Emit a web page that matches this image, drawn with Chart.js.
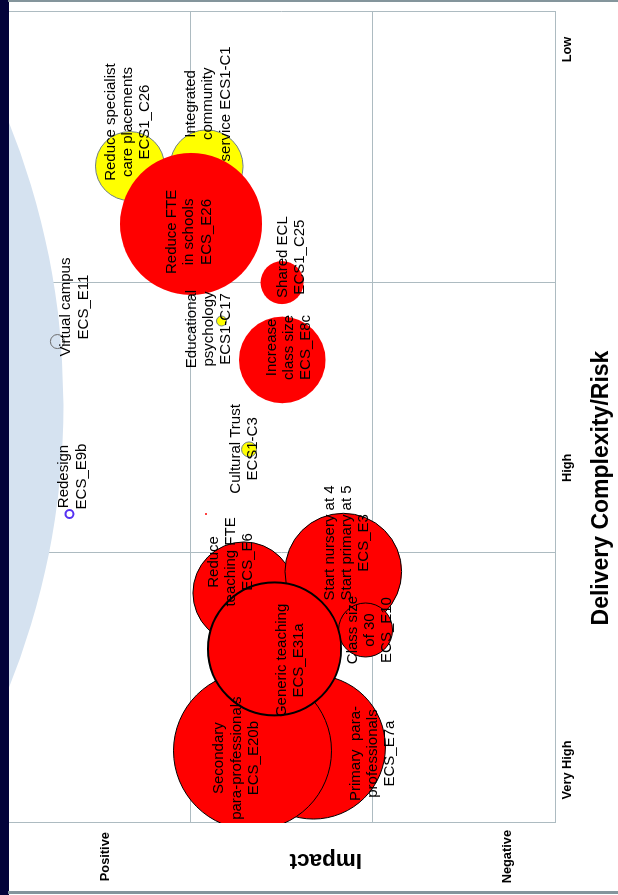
<!DOCTYPE html>
<html>
<head>
<meta charset="utf-8">
<title>Savings initiatives – impact vs delivery complexity</title>
<script src="https://cdn.jsdelivr.net/npm/chart.js@4/dist/chart.umd.min.js"></script>
<style>
  html, body { margin: 0; padding: 0; background: #ffffff; }
  body { position: relative; width: 618px; height: 895px; overflow: hidden; }
  /* the chart is laid out landscape and turned a quarter turn to stand upright */
  #turn {
    position: absolute; left: 0; top: 0; width: 895px; height: 618px;
    transform-origin: 0 0; transform: translate(0, 895px) rotate(-90deg);
  }
  #edge { position: absolute; left: 0; top: 0; width: 8.5px; height: 895px; background: #03033a; }
  #ruleTop { position: absolute; left: 8px; top: 0; width: 610px; height: 2px; background: #84959c; }
  #ruleBottom { position: absolute; left: 8px; top: 891px; width: 610px; height: 3px; background: #84959c; }
</style>
</head>
<body>
<div id="turn"><canvas id="chart" width="895" height="618"></canvas></div>
<div id="edge"></div>
<div id="ruleTop"></div>
<div id="ruleBottom"></div>
<script>
// ---- data -------------------------------------------------------------
// initiative reference codes
const codes = ['ECS1_C26', 'ECS1-C1', 'ECS_E26', 'ECS1_C25', 'ECS1-C17', 'ECS_E8c', 'ECS1-C3',
               'ECS_E11', 'ECS_E9b', '', 'ECS_E6', 'ECS_E3', 'ECS_E10', 'ECS_E7a', 'ECS_E20b', 'ECS_E31a'];

// label text shown on each bubble
const labels = [
  ['Reduce specialist', 'care placements', 'ECS1_C26'],
  ['Integrated', 'community', 'service ECS1-C1'],
  ['Reduce FTE', 'in schools', 'ECS_E26'],
  ['Shared ECL', 'ECS1_C25'],
  ['Educational', 'psychology', 'ECS1-C17'],
  ['Increase', 'class size', 'ECS_E8c'],
  ['Cultural Trust', 'ECS1-C3'],
  ['Virtual campus', 'ECS_E11'],
  ['Redesign', 'ECS_E9b'],
  [],
  ['Reduce', 'teaching FTE', 'ECS_E6'],
  ['Start nursery at 4', 'Start primary at 5', 'ECS_E3'],
  ['Class size', 'of 30', 'ECS_E10'],
  ['Primary  para-', 'professionals', 'ECS_E7a'],
  ['Secondary', 'para-professionals', 'ECS_E20b'],
  ['Generic teaching', 'ECS_E31a']
];

// delivery complexity / risk (0 = very high ... 3 = low)
const complexity = [2.430, 2.429, 2.216, 1.999, 1.857, 1.713, 1.382,
                    1.781, 1.143, 1.143, 0.851, 0.930, 0.714, 0.281, 0.267, 0.644];

// impact (0 = negative ... 3 = positive)
const impact = [2.331, 1.911, 1.996, 1.497, 1.829, 1.496, 1.678,
                2.729, 2.663, 1.914, 1.706, 1.161, 1.039, 1.325, 1.659, 1.538];

// bubble size (saving)
const bubbleSize = [34.5, 36.5, 71, 21.5, 5, 43.3, 7.5,
                    7, 4, 1, 51, 58.3, 27, 72, 79, 66.5];

// delivery status of each initiative
const status = ['amber', 'amber', 'red', 'red', 'amber', 'red', 'amber',
                'open', 'new', 'red', 'redLine', 'redLine', 'redLine', 'redLine', 'redLine', 'redKey'];

// shaded target zone
const zoneComplexity = [1.546];
const zoneImpact = [6.861];
const zoneSize = [759.5];

// axis ticks
const complexityTickValues = [0.196, 1.314, 2.861];
const complexityTickLabels = ['Very High', 'High', 'Low'];
const impactTickValues = [2.463, 0.258];
const impactTickLabels = ['Positive', 'Negative'];
const quadrantLines = [0, 1, 2, 3];

// ---- appearance -------------------------------------------------------
const FONT = '"Liberation Sans", Arial, Helvetica, sans-serif';
const GRID = '#adbbc1';
const looks = {
  amber:   { fill: '#ffff00', line: '#6f7f86', width: 1 },
  red:     { fill: '#ff0000', line: '#ff0000', width: 0 },
  redLine: { fill: '#ff0000', line: '#000000', width: 1 },
  redKey:  { fill: '#ff0000', line: '#000000', width: 2 },
  open:    { fill: 'rgba(0,0,0,0)', line: '#6b6b6b', width: 1 },
  new:     { fill: '#ffffff', line: '#5530f2', width: 2 }
};
// label block offsets from bubble centre, in pixels [along, across]
const labelNudge = [
  [44, -2], [62.5, 1.5], [-8, -2], [25.5, 9.5], [-8, -12.5], [12.5, 6.7], [0.5, -5],
  [34.5, 17.5], [37.5, 3.5], [0, 0], [31, -13], [28.7, 3.4], [0, 4.5], [-6.5, 59.5], [-7.3, -16], [-11.5, 15.5]
];

// unlabelled ticks get an empty line list so they take no room in the layout
function nearest(values, names, v) {
  for (let i = 0; i < values.length; i++) if (Math.abs(values[i] - v) < 1e-6) return names[i];
  return [];
}
function isQuadrantLine(v) {
  return quadrantLines.some(q => Math.abs(q - v) < 1e-6);
}
function tickSet(values) {
  return [...quadrantLines, ...values].sort((a, b) => a - b).map(v => ({ value: v }));
}

// text on the bubbles
const bubbleLabels = {
  id: 'bubbleLabels',
  afterDatasetsDraw(chart) {
    const meta = chart.getDatasetMeta(0);
    const ctx = chart.ctx;
    ctx.save();
    ctx.font = '15px ' + FONT;
    ctx.fillStyle = '#000000';
    ctx.textAlign = 'center';
    ctx.textBaseline = 'middle';
    meta.data.forEach((el, i) => {
      const lines = labels[i];
      if (!lines.length) return;
      const [dx, dy] = labelNudge[i];
      const step = 17.3;
      lines.forEach((t, k) => {
        ctx.fillText(t, el.x + dx, el.y + dy + (k - (lines.length - 1) / 2) * step);
      });
    });
    ctx.restore();
  }
};

// axis captions
const axisCaptions = {
  id: 'axisCaptions',
  afterDraw(chart) {
    const { ctx, chartArea: a } = chart;
    ctx.save();
    ctx.fillStyle = '#000000';
    ctx.textAlign = 'center';
    ctx.textBaseline = 'alphabetic';
    ctx.font = 'bold 23px ' + FONT;
    ctx.fillText('Delivery Complexity/Risk', a.left + (a.right - a.left) * 0.413, 607.5);
    ctx.translate(41, a.top + (a.bottom - a.top) * 0.581);
    ctx.rotate(-Math.PI / 2);
    ctx.font = 'bold 22.5px ' + FONT;
    ctx.fillText('Impact', 0, 0);
    ctx.restore();
  }
};

new Chart(document.getElementById('chart'), {
  type: 'bubble',
  data: {
    datasets: [
      {
        label: 'Initiatives',
        data: codes.map((c, i) => ({ x: complexity[i], y: impact[i], r: bubbleSize[i] })),
        backgroundColor: ctx => looks[status[ctx.dataIndex]].fill,
        borderColor: ctx => looks[status[ctx.dataIndex]].line,
        borderWidth: ctx => looks[status[ctx.dataIndex]].width,
        clip: 0,
        order: 0
      },
      {
        label: 'Target zone',
        data: zoneComplexity.map((x, i) => ({ x, y: zoneImpact[i], r: zoneSize[i] })),
        backgroundColor: '#d5e2f0',
        borderWidth: 0,
        clip: 0,
        order: 1
      }
    ]
  },
  options: {
    responsive: false,
    animation: false,
    events: [],
    layout: { autoPadding: false, padding: { top: 8, right: 12, left: 0, bottom: 0 } },
    plugins: { legend: { display: false }, tooltip: { enabled: false } },
    scales: {
      x: {
        type: 'linear', position: 'bottom', min: 0, max: 3,
        afterBuildTicks: s => { s.ticks = tickSet(complexityTickValues); },
        afterFit: s => { s.height = 63; },
        ticks: {
          autoSkip: false, maxRotation: 0, padding: 4.5, color: '#000000',
          font: { family: FONT, size: 12.8, weight: 'bold' },
          callback: v => nearest(complexityTickValues, complexityTickLabels, v)
        },
        grid: {
          drawTicks: false, lineWidth: 1,
          color: c => (c.tick && isQuadrantLine(c.tick.value)) ? GRID : 'rgba(0,0,0,0)'
        },
        border: { color: GRID, width: 1 }
      },
      y: {
        type: 'linear', position: 'left', min: 0, max: 3,
        afterBuildTicks: s => { s.ticks = tickSet(impactTickValues); },
        afterFit: s => { s.width = 72; },
        ticks: {
          autoSkip: false, padding: 7, crossAlign: 'center', color: '#000000',
          font: { family: FONT, size: 12.8, weight: 'bold' },
          callback: v => nearest(impactTickValues, impactTickLabels, v)
        },
        grid: {
          drawTicks: false, lineWidth: 1,
          color: c => (c.tick && isQuadrantLine(c.tick.value)) ? GRID : 'rgba(0,0,0,0)'
        },
        border: { color: GRID, width: 1 }
      }
    }
  },
  plugins: [bubbleLabels, axisCaptions]
});
</script>
</body>
</html>
